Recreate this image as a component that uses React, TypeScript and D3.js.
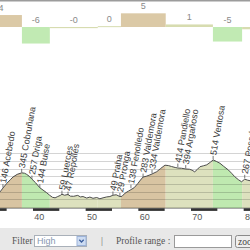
import React from 'react';
import * as d3 from 'd3';

// elevation profile: distance (km) and altitude (m)
const profileKm = [
  28.8, 30.5, 31.8, 32.54, 33.1, 33.8, 34.5, 35.0, 35.8, 36.66, 37.2, 37.6, 38.1, 38.6, 39.3,
  40.1, 40.7, 41.4, 42.0, 42.5, 43.0, 43.5, 44.0, 44.3, 44.8, 45.45, 45.9, 46.5, 47.3, 47.8,
  48.3, 49.0, 49.6, 50.2, 50.9, 51.5, 52.1, 52.8, 53.4, 53.98, 54.6, 55.3, 55.7, 56.3, 56.9,
  57.4, 58.0, 58.7, 59.2, 59.7, 60.3, 61.0, 61.4, 62.3, 63.0, 63.85, 64.5, 65.1, 65.8, 66.3,
  67.0, 67.8, 68.5, 69.0, 69.5, 70.0, 70.5, 71.2, 71.8, 72.5, 73.0, 73.6, 74.3, 75.0, 75.9,
  76.5, 77.1, 77.8, 78.4, 79.0, 79.5, 80.0, 80.5,
];
const profileElev = [
  60, 40, 60, 95, 146, 205, 255, 290, 325, 345, 340, 325, 300, 262, 215,
  150, 120, 85, 50, 25, 18, 35, 50, 65, 52, 62, 40, 38, 50, 30,
  35, 15, 28, 12, 22, 6, 18, 30, 35, 52, 58, 35, 38, 80, 105,
  125, 150, 205, 250, 290, 300, 318, 330, 360, 400, 445, 440, 428, 415, 408,
  405, 395, 392, 380, 358, 390, 425, 438, 450, 485, 514, 495, 470, 430, 382,
  340, 295, 255, 228, 262, 250, 242, 240,
];

// slope sections: start, end (km) and mean grade (%)
const segStart = [28.8, 36.7, 42.0, 51.1, 55.5, 64.0, 72.96, 78.5];
const segEnd = [36.7, 42.0, 51.1, 55.5, 64.0, 72.96, 78.5, 86.0];
const segGrade = [4.2, -5.8, -0.4, 0.3, 4.8, 0.9, -5.1, -0.8];

// named waypoints
const wpKm = [33.1, 36.66, 38.6, 40.1, 44.3, 45.45, 53.98, 55.3, 57.4, 59.7, 61.4, 66.3, 67.8, 73.0, 79.0];
const wpElev = [146, 345, 257, 144, 59, 47, 49, 29, 138, 283, 334, 414, 394, 514, 267];
const wpName = [
  'Acebedo', 'Cobruñana', 'Driga', 'Buise', 'Luerces', 'Repollés', 'Praha', 'Pronga',
  'Fenolledo', 'Valdemora', 'Valdemora', 'Pandiello', 'Argañoso', 'Ventosa', 'Posada',
];

const kmTicks = [40, 50, 60, 70, 80];
const elevGrid = [-100, 0, 100, 200, 300, 400, 500, 600];

const BASE = 208;
const GRADE_BASE = 27;
const sans = 'Liberation Sans, Arial, sans-serif';
const serif = 'Liberation Serif, Times New Roman, serif';

const barColor = (g: number) => (g >= 3 ? '#dbc9a6' : g <= -3 ? '#c1eab3' : '#d7dcb0');
const fillColor = (g: number) => (g >= 3 ? '#d8c4a2' : g <= -3 ? '#bfe9b0' : '#dde1be');

const App = () => {
  const x = d3.scaleLinear().domain([32.54, 80]).range([0, 250]);
  const y = d3.scaleLinear().domain([-115, 700]).range([BASE, 145.7]);
  const gy = d3.scaleLinear().domain([-6, 5]).range([GRADE_BASE + 6 * 2.85, GRADE_BASE - 5 * 2.85]);

  const pts: [number, number][] = profileKm.map((k, i) => [k, profileElev[i]]);
  const area = d3.area<[number, number]>().x(d => x(d[0])).y0(BASE).y1(d => y(d[1]));
  const line = d3.line<[number, number]>().x(d => x(d[0])).y(d => y(d[1]));

  const barStarts = d3.range(28.8, 90, 5);

  return (
    <svg width={250} height={250} style={{ position: 'absolute', left: 0, top: 0, display: 'block' }}>
      <defs>
        <clipPath id="under">
          <path d={area(pts) || ''} />
        </clipPath>
      </defs>
      <rect width={250} height={250} fill="#fff" />
      <rect x={0} y={0} width={250} height={1.5} fill="#9c9c9c" />

      {/* grade bars */}
      {segGrade.map((g, i) => {
        const x0 = x(segStart[i]);
        const x1 = x(segEnd[i]);
        const cx = (x0 + x1) / 2;
        const top = Math.min(gy(g), GRADE_BASE);
        const h = Math.max(Math.abs(gy(g) - GRADE_BASE), 1);
        const ly = g > 0 ? gy(g) - 4.5 : GRADE_BASE - 4;
        return (
          <g key={'s' + i}>
            <rect x={x0} y={g > 0 ? top : GRADE_BASE} width={x1 - x0} height={h} fill={barColor(g)} />
            {cx < 250 && (
              <text x={cx} y={ly} fontSize={9} fontFamily={sans} fill="#8a8a8a" textAnchor="middle">
                {g.toFixed(0)}
              </text>
            )}
          </g>
        );
      })}

      {/* coloured area under profile */}
      <g clipPath="url(#under)">
        {segGrade.map((g, i) => (
          <rect key={'f' + i} x={x(segStart[i])} y={140} width={x(segEnd[i]) - x(segStart[i])}
            height={BASE - 140} fill={fillColor(g)} />
        ))}
      </g>

      {elevGrid.map(e => (
        <line key={'g' + e} x1={0} x2={250} y1={Math.round(y(e)) + 0.5} y2={Math.round(y(e)) + 0.5}
          stroke="#000" strokeOpacity={0.17} />
      ))}

      <path d={line(pts) || ''} fill="none" stroke="#4d4d4d" strokeWidth={1} />

      {/* waypoints */}
      {wpKm.map((k, i) => {
        const px = x(k);
        const py = y(wpElev[i]);
        return (
          <g key={'w' + i}>
            <line x1={px} x2={px} y1={py - 0.5} y2={py - 4} stroke="#555" strokeWidth={0.8} />
            <text transform={`translate(${px},${py - 5}) rotate(-80)`} dy="0.35em" fontSize={9}
              fontFamily={sans} fill="#3c3c3c">
              {wpElev[i] + ' ' + wpName[i]}
            </text>
          </g>
        );
      })}

      {/* distance scale bar */}
      <line x1={0} x2={250} y1={208.5} y2={208.5} stroke="#a8a8a8" />
      {barStarts.map((s, i) =>
        i % 2 === 0 ? <rect key={'b' + i} x={x(s)} y={208.3} width={x(s + 5) - x(s)} height={2.6} fill="#333" /> : null
      )}
      {kmTicks.map(t => (
        <text key={'t' + t} x={x(t)} y={220} fontSize={9} fontFamily={sans} fill="#555" textAnchor="middle">
          {t}
        </text>
      ))}

      {/* form strip */}
      <rect x={0} y={228} width={250} height={22} fill="#e8e8e8" />
      <text x={12} y={243.5} fontSize={9.5} fontFamily={serif} fill="#555">Filter</text>
      <rect x={34.5} y={235.5} width={52} height={11} fill="#fff" stroke="#a9b0b9" />
      <text x={37} y={244} fontSize={9} fontFamily={sans} fill="#8797b2">High</text>
      <rect x={77} y={236.5} width={9} height={9} fill="#cddcf2" stroke="#9db3d9" />
      <path d="M79.3,239.8 l2.2,2.2 l2.2,-2.2" fill="none" stroke="#3b5d9c" strokeWidth={1.3} />
      <text x={101} y={243.5} fontSize={9.5} fontFamily={serif} fill="#666">|</text>
      <text x={116} y={243.5} fontSize={9.5} fontFamily={serif} fill="#555">Profile range :</text>
      <rect x={174.5} y={235.5} width={57} height={12} fill="#fff" stroke="#9a9a9a" />
      <rect x={235.5} y={235.5} width={24} height={12} rx={2} fill="#efefef" stroke="#8a8a8a" />
      <text x={238} y={244.5} fontSize={9.5} fontFamily={serif} fill="#444">zoom</text>
    </svg>
  );
};

export default App;
